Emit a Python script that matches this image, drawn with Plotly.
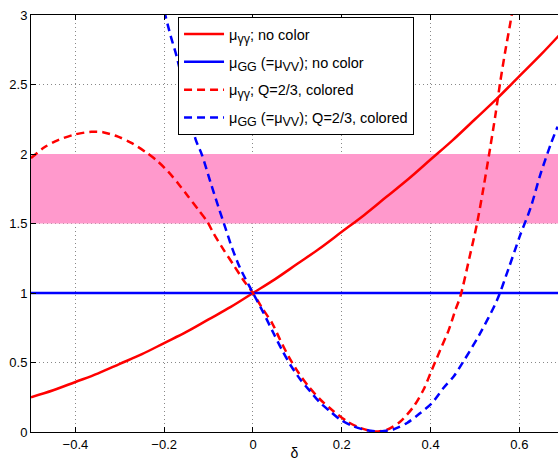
import plotly.graph_objects as go

# ---- data ----
delta_solid = [-0.50, -0.45, -0.40, -0.35, -0.30, -0.25, -0.20, -0.15, -0.10, -0.05,
               0.00, 0.05, 0.10, 0.15, 0.20, 0.25, 0.30, 0.35, 0.40, 0.45, 0.50,
               0.55, 0.60, 0.65, 0.70]
mu_gamma_nocolor = [0.25, 0.30, 0.36, 0.42, 0.49, 0.56, 0.64, 0.72, 0.81, 0.90,
                    1.00, 1.10, 1.21, 1.32, 1.44, 1.56, 1.69, 1.82, 1.96, 2.10, 2.25,
                    2.40, 2.56, 2.72, 2.89]

delta_gg_nocolor = [-0.5, 0.7]
mu_gg_nocolor = [1.0, 1.0]

delta_gamma_col = [-0.500, -0.469, -0.439, -0.402, -0.364, -0.338, -0.304, -0.274, -0.240,
                   -0.214, -0.191, -0.169, -0.146, -0.124, -0.103, -0.089, -0.066, -0.044,
                   -0.021, 0.000, 0.021, 0.043, 0.061, 0.080, 0.103, 0.125, 0.152, 0.182,
                   0.212, 0.242, 0.272, 0.302, 0.332, 0.362, 0.384, 0.403, 0.422, 0.441,
                   0.456, 0.467, 0.489, 0.504, 0.519, 0.534, 0.546, 0.557, 0.568, 0.580,
                   0.590]
mu_gamma_col = [1.97, 2.05, 2.10, 2.14, 2.16, 2.157, 2.125, 2.08, 2.01,
                1.945, 1.873, 1.79, 1.694, 1.603, 1.514, 1.43, 1.31, 1.203,
                1.09, 1.00, 0.89, 0.784, 0.664, 0.544, 0.424, 0.328, 0.232, 0.148,
                0.076, 0.029, 0.004, 0.017, 0.076, 0.184, 0.304, 0.448, 0.592, 0.735,
                0.879, 0.975, 1.275, 1.49, 1.754, 2.04, 2.28, 2.52, 2.736, 2.95,
                3.15]

delta_gg_col = [-0.200, -0.186, -0.171, -0.130, -0.115, -0.096, -0.077, -0.062, -0.047,
                -0.029, -0.010, 0.000, 0.024, 0.046, 0.065, 0.084, 0.107, 0.129, 0.152,
                0.174, 0.197, 0.227, 0.257, 0.287, 0.317, 0.347, 0.377, 0.403, 0.429,
                0.452, 0.467, 0.510, 0.550, 0.576, 0.602, 0.625, 0.647, 0.670, 0.686]
mu_gg_col = [3.03, 2.856, 2.69, 2.113, 1.994, 1.80, 1.61, 1.467, 1.323,
             1.179, 1.06, 1.00, 0.855, 0.712, 0.592, 0.484, 0.376, 0.292, 0.208,
             0.148, 0.088, 0.040, 0.012, 0.004, 0.020, 0.065, 0.137, 0.208, 0.316,
             0.40, 0.472, 0.70, 0.951, 1.179, 1.418, 1.61, 1.85, 2.065, 2.197]

band_x = [-0.5, 0.7]
band_low = 1.5
band_high = 2.0

x_ticks = [-0.4, -0.2, 0, 0.2, 0.4, 0.6]
y_ticks = [0, 0.5, 1, 1.5, 2, 2.5, 3]


def sub(s):
    return "<sub><span style='font-size:12.5px'>" + s + "</span></sub>"


labels = [
    "μ" + sub("γγ") + "; no color",
    "μ" + sub("GG") + " (=μ" + sub("VV") + "); no color",
    "μ" + sub("γγ") + "; Q=2/3, colored",
    "μ" + sub("GG") + " (=μ" + sub("VV") + "); Q=2/3, colored",
]

RED = "#FF0000"
BLUE = "#0000FF"
LW = 2.5
DASH = "8px,5px"

fig = go.Figure()

fig.add_trace(go.Scatter(
    x=[band_x[0], band_x[1], band_x[1], band_x[0]],
    y=[band_low, band_low, band_high, band_high],
    fill="toself", fillcolor="#FF99CC", line=dict(width=0),
    mode="lines", showlegend=False, hoverinfo="skip"))

fig.add_trace(go.Scatter(x=delta_solid, y=mu_gamma_nocolor, mode="lines", legendgroup="a",
                         line=dict(color=RED, width=LW, shape="spline"), name=labels[0]))
fig.add_trace(go.Scatter(x=delta_gg_nocolor, y=mu_gg_nocolor, mode="lines", legendgroup="b",
                         line=dict(color=BLUE, width=LW), name=labels[1]))
fig.add_trace(go.Scatter(x=delta_gamma_col, y=mu_gamma_col, mode="lines", legendgroup="c",
                         line=dict(color=RED, width=LW, dash=DASH, shape="spline", smoothing=0.8),
                         name=labels[2]))
fig.add_trace(go.Scatter(x=delta_gg_col, y=mu_gg_col, mode="lines", legendgroup="d",
                         line=dict(color=BLUE, width=LW, dash=DASH, shape="spline", smoothing=0.8),
                         name=labels[3]))

fig.update_layout(
    width=558, height=461,
    margin=dict(l=31, r=0, t=15, b=29),
    paper_bgcolor="white", plot_bgcolor="white",
    font=dict(family="Liberation Sans, Arial, sans-serif", size=13, color="black"),
    legend=dict(x=0.279, y=0.995, xanchor="left", yanchor="top",
                bgcolor="white", bordercolor="black", borderwidth=1,
                font=dict(size=14.5), itemwidth=40, tracegroupgap=6),
)

fig.update_xaxes(
    range=[-0.5, 0.687], tickvals=x_ticks, ticks="inside", ticklen=5,
    tickcolor="black", showline=True, linecolor="black", linewidth=1,
    mirror="ticks", showgrid=True, gridcolor="#888888", griddash="1px,3px",
    gridwidth=1, zeroline=False, automargin=False,
    title=dict(text="δ", standoff=13, font=dict(size=14)),
)
fig.update_yaxes(
    range=[0, 3], tickvals=y_ticks, ticks="inside", ticklen=5,
    tickcolor="black", showline=True, linecolor="black", linewidth=1,
    mirror=False, showgrid=True, gridcolor="#888888", griddash="1px,3px",
    gridwidth=1, zeroline=False, automargin=False,
)

fig.write_html("out.html", config={"displayModeBar": False},
               post_script="document.body.style.margin='0';document.body.style.overflow='hidden';")
